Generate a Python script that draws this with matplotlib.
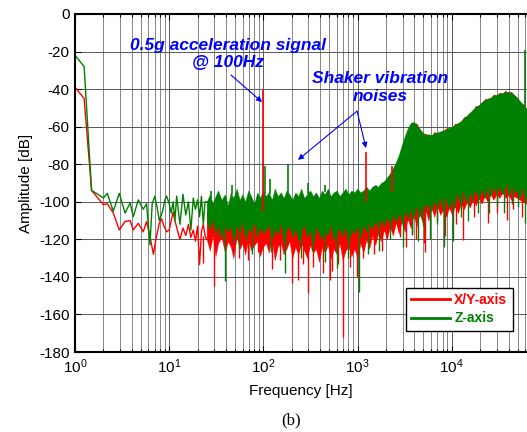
import numpy as np
import matplotlib
matplotlib.use('Agg')
import matplotlib.pyplot as plt
from matplotlib.lines import Line2D
from matplotlib import ticker

plt.rcParams['font.family'] = ['Liberation Sans', 'DejaVu Sans']
plt.rcParams['mathtext.fontset'] = 'custom'
plt.rcParams['mathtext.rm'] = 'Liberation Sans'
plt.rcParams['mathtext.it'] = 'Liberation Sans:italic'
plt.rcParams['mathtext.bf'] = 'Liberation Sans:bold'
plt.rcParams['axes.unicode_minus'] = False

# ---- low frequency part (drawn as plain lines) ----
xy_lo_f = [1.0, 1.25, 1.5, 1.75, 2.0, 2.2, 2.55, 2.95, 3.4, 3.85, 4.15, 4.7, 5.3, 5.75,
           6.25, 6.8, 7.25, 7.85, 8.3, 8.8, 9.4, 10.0, 11.0, 11.5, 12.2, 13.0, 14.0, 15.0,
           16.0, 17.0, 18.0, 19.0, 20.0, 21.0, 22.0, 23.0, 24.0, 25.0]
xy_lo = [-39, -45, -94, -98, -101.5, -101, -106, -115, -110.5, -110, -115, -111.5, -116, -110.5,
         -118.5, -128, -119.5, -111.5, -109, -113, -116, -115, -105.5, -110, -115, -120, -114, -118,
         -112, -119, -115, -121, -113, -133.5, -116, -112, -118, -120]

z_lo_f = [1.0, 1.25, 1.5, 1.75, 2.0, 2.2, 2.55, 2.95, 3.4, 3.85, 4.15, 4.7, 5.3, 5.75,
          6.25, 6.6, 7.05, 7.5, 7.85, 8.5, 9.0, 9.4, 10.0, 10.5, 11.0, 11.5, 12.0, 13.0,
          14.0, 15.0, 16.0, 17.0, 18.0, 19.0, 20.0, 21.0, 22.0, 23.0, 24.0, 25.0]
z_lo = [-22, -28, -94, -96, -98, -95.5, -105, -95.5, -106, -100.5, -108, -99, -104, -101,
        -123, -101, -97, -104, -110, -105, -99, -97, -101, -106, -100, -110, -97, -112,
        -96, -107, -100, -115, -98, -104, -99, -108, -97, -112, -100, -100]

# ---- dense part: band envelopes ----
band_f = [25, 27, 29, 31, 33, 36, 39, 42, 45, 48,
          52, 56, 60, 64, 69, 74, 80, 86, 92, 99,
          106, 114, 123, 132, 142, 153, 164, 176, 189, 203,
          218, 235, 252, 271, 291, 313, 337, 362, 389, 418,
          449, 483, 519, 558, 600, 645, 693, 745, 801, 861,
          926, 995, 1070, 1150, 1240, 1330, 1430, 1540, 1650, 1770,
          1910, 2050, 2200, 2370, 2550, 2740, 2940, 3170, 3400, 3660,
          3930, 4230, 4540, 4880, 5250, 5640, 6070, 6520, 7010, 7540,
          8100, 8710, 9360, 10070, 10820, 11630, 12500, 13440, 14450, 15540,
          16700, 17950, 19300, 20750, 22300, 23980, 25770, 27710, 29780, 32020,
          34420, 37000, 39780, 42760, 45970, 49410, 53120, 57100, 61390, 63000]

z_top = [-100, -96, -101, -97, -94, -99, -96, -102, -95, -98,
         -93, -99, -96, -100, -94, -97, -101, -95, -98, -94,
         -97, -95, -99, -93, -97, -95, -98, -94, -96, -99,
         -95, -97, -93, -98, -96, -94, -97, -95, -98, -94,
         -96, -93, -97, -95, -94, -97, -95, -93, -96, -94,
         -95, -93, -95, -94, -92, -94, -92, -91, -92, -90,
         -89, -87, -85, -82, -79, -75, -70, -65, -61, -58,
         -57.5, -59, -61, -63, -64.5, -64, -64.5, -63.5, -63, -62.5,
         -62, -61.5, -60.5, -60, -59, -58, -57, -55.5, -54, -52.5,
         -51, -49.5, -48.5, -47, -46, -45, -44.5, -43.5, -43, -42.5,
         -42, -41.5, -41.5, -42, -43, -44.5, -46.5, -48.5, -50, -51]
z_bot = [-110, -115, -109, -118, -112, -120, -111, -116, -113, -122,
         -112, -117, -110, -121, -114, -116, -111, -119, -113, -117,
         -115, -112, -120, -114, -118, -111, -122, -115, -113, -119,
         -114, -121, -116, -112, -119, -115, -123, -113, -117, -120,
         -115, -118, -112, -121, -116, -114, -119, -113, -122, -115,
         -117, -113, -119, -112, -116, -111, -115, -110, -114, -109,
         -113, -108, -112, -107, -111, -106, -112, -105, -110, -104,
         -109, -103, -108, -101, -106, -100, -105, -99, -104, -98,
         -105, -99, -104, -98, -103, -97, -102, -96, -101, -95,
         -100, -94, -99, -93, -98, -93, -97, -92, -96, -92,
         -96, -92, -97, -93, -95, -94, -98, -95, -99, -97]

xy_top = [-105, -109, -104, -110, -106, -103, -108, -105, -110, -104,
          -107, -103, -109, -105, -108, -104, -110, -106, -103, -108,
          -105, -109, -104, -107, -103, -108, -105, -110, -104, -106,
          -108, -104, -107, -103, -109, -105, -106, -104, -108, -105,
          -104, -107, -105, -103, -108, -104, -106, -103, -105, -104,
          -103, -104, -101, -102, -99, -100, -98, -97, -96, -94,
          -93, -91, -88, -85, -81, -77, -72, -67, -62, -59,
          -58.5, -58.2, -61.5, -63.5, -63.8, -64.5, -65, -62.8, -63.5, -63,
          -62.5, -60.8, -61, -60.5, -58.3, -58.5, -57.5, -54.8, -54.5, -53,
          -51.5, -48.8, -49, -47.5, -45.3, -45.5, -45, -42.8, -43.5, -41.8,
          -42.5, -40.8, -42, -41.3, -43.5, -45, -47, -48, -50.5, -51.5]
xy_bot = [-120, -126, -118, -129, -122, -119, -127, -121, -124, -130,
          -119, -125, -122, -128, -120, -126, -123, -121, -129, -124,
          -122, -127, -120, -131, -124, -122, -128, -125, -121, -130,
          -124, -128, -122, -126, -130, -123, -127, -125, -132, -124,
          -127, -123, -130, -125, -128, -122, -131, -126, -124, -129,
          -125, -130, -122, -127, -120, -125, -118, -123, -117, -121,
          -115, -120, -113, -118, -111, -117, -110, -116, -109, -114,
          -107, -113, -106, -111, -104, -110, -103, -108, -102, -107,
          -104, -108, -103, -107, -102, -106, -101, -104, -100, -103,
          -99, -102, -98, -101, -97, -100, -96, -99, -96, -98,
          -95, -98, -96, -99, -97, -98, -99, -100, -101, -100]

# ---- spikes (freq, lower end, upper end) ----
xy_dn_f = [23, 30, 55, 69, 88, 122, 150, 200, 232, 265, 298, 336, 430, 510, 530, 620, 707,
           830, 985, 1150, 1500, 1800, 2800, 3300, 3800, 4200, 5100, 5200, 6900, 8500, 11000,
           13200, 17000, 24000, 30000, 38600, 45000, 56000]
xy_dn_lo = [-132.7, -145, -130, -131, -127, -136, -131, -143.4, -141.6, -133, -148.7, -134.5,
            -138, -141.6, -137, -133, -171.8, -134.5, -139.8, -130, -128, -126, -118.5, -123.9,
            -117.7, -120, -122, -126.5, -110, -118, -112, -120.3, -108, -111.4, -106, -109.7,
            -104, -108]
xy_dn_hi = [-118, -118, -120, -120, -118, -120, -120, -122, -122, -120, -122, -122, -122, -122,
            -122, -122, -122, -122, -120, -118, -115, -113, -108, -106, -104, -103, -102, -102,
            -99, -98, -96, -95, -94, -92, -91, -91, -92, -93]

xy_up_f = [100, 1230, 2300]
xy_up_lo = [-105, -100, -95]
xy_up_hi = [-40.5, -73.3, -81]

z_dn_f = [39, 55, 75, 120, 170, 250, 330, 450, 600, 800, 1040, 1300, 1700, 2200, 3000, 3800,
          4400, 5000, 5900, 7000, 8200, 10300, 12500, 15000, 19000, 25000, 30000, 36000, 44000,
          50000, 60000]
z_dn_lo = [-142, -125, -128, -127, -138, -130, -126, -132, -135, -130, -148, -128, -126, -120,
           -124, -117, -121, -113, -120, -112, -124, -121, -108, -110, -106, -106, -102, -106,
           -101, -103, -111.5]
z_dn_hi = [-112, -113, -114, -114, -115, -115, -116, -116, -115, -115, -114, -112, -110, -108,
           -106, -104, -102, -100, -99, -98, -97, -95, -94, -93, -91, -90, -89, -89, -90, -91,
           -92]

z_up_f = [28, 46.6, 103, 117, 181, 300, 450, 60000]
z_up_lo = [-98, -96, -96, -96, -96, -96, -95, -50]
z_up_hi = [-94, -91, -81, -88, -80, -90, -91, -19]

RED = (1, 0, 0)
GREEN = (0, 0.5, 0)

fig = plt.figure(figsize=(5.27, 4.32), dpi=100)
ax = fig.add_axes([75 / 527, 1 - 352 / 432, 452 / 527, 338 / 432])

# X/Y axis first, Z on top
ax.fill_between(band_f, xy_bot, xy_top, color=RED, lw=0.3)
ax.plot(xy_lo_f, xy_lo, color=RED, lw=1.0)
ax.vlines(xy_dn_f, xy_dn_lo, xy_dn_hi, color=RED, lw=1.0)
ax.vlines(xy_up_f, xy_up_lo, xy_up_hi, color=RED, lw=1.2)

ax.fill_between(band_f, z_bot, z_top, color=GREEN, lw=0.3)
ax.plot(z_lo_f, z_lo, color=GREEN, lw=1.0)
ax.vlines(z_dn_f, z_dn_lo, z_dn_hi, color=GREEN, lw=1.0)
ax.vlines(z_up_f, z_up_lo, z_up_hi, color=GREEN, lw=1.2)

ax.set_xscale('log')
ax.set_xlim(1, 10 ** (452 / 94.2))
ax.set_ylim(-180, 0)
ax.set_yticks(np.arange(-180, 1, 20))
ax.xaxis.set_major_locator(ticker.FixedLocator([1, 10, 100, 1000, 10000]))
ax.xaxis.set_major_formatter(ticker.LogFormatterSciNotation())
ax.xaxis.set_minor_locator(ticker.LogLocator(base=10, subs=np.arange(2, 10), numticks=20))
ax.xaxis.set_minor_formatter(ticker.NullFormatter())

ax.set_axisbelow(True)
ax.grid(True, which='major', color='0.35', lw=0.7)
ax.grid(True, which='minor', axis='x', color='0.45', lw=0.6)

ax.tick_params(which='both', direction='in', top=True, right=False, labelsize=11,
               width=0.8, colors='black')
ax.tick_params(which='major', length=4, pad=4)
ax.tick_params(which='minor', length=2)
for s in ['left', 'bottom', 'top']:
    ax.spines[s].set_linewidth(1.5)
ax.spines['right'].set_visible(False)

ax.set_xlabel('Frequency [Hz]', fontsize=11, labelpad=6)
ax.set_ylabel('Amplitude [dB]', fontsize=11, labelpad=4)

# annotations
ann = dict(color='blue', fontsize=12.5, fontweight='bold', fontstyle='italic',
           ha='center', va='center', linespacing=1.2)
ax.text(42.1, -21.3, '0.5g acceleration signal\n@ 100Hz', **ann)
ax.text(1729, -39.1, 'Shaker vibration\nnoises', **ann)
arr = dict(arrowstyle='-|>', color='blue', lw=0.8, mutation_scale=8,
           shrinkA=0, shrinkB=0)
ax.annotate('', xy=(96.8, -46.9), xytext=(45.3, -32.5), arrowprops=arr)
ax.annotate('', xy=(233, -77.7), xytext=(986, -51.7), arrowprops=arr)
ax.annotate('', xy=(1228, -71.4), xytext=(986, -51.7), arrowprops=arr)

handles = [Line2D([], [], color=RED, lw=2), Line2D([], [], color=GREEN, lw=2)]
leg = ax.legend(handles, ['X/Y-axis', 'Z-axis'], loc='lower right',
                bbox_to_anchor=(0.969, 0.062), borderaxespad=0, fancybox=False,
                edgecolor='black', framealpha=1, handlelength=2.8,
                prop={'weight': 'bold', 'size': 10}, borderpad=0.4, labelspacing=0.3,
                handletextpad=0.3)
leg.get_frame().set_linewidth(1.0)
for t, c in zip(leg.get_texts(), [RED, GREEN]):
    t.set_color(c)

fig.text(291 / 527, 1 - 420 / 432, '(b)', ha='center', va='center',
         fontsize=12, family='Liberation Serif')

fig.savefig('out.png', dpi=100)
